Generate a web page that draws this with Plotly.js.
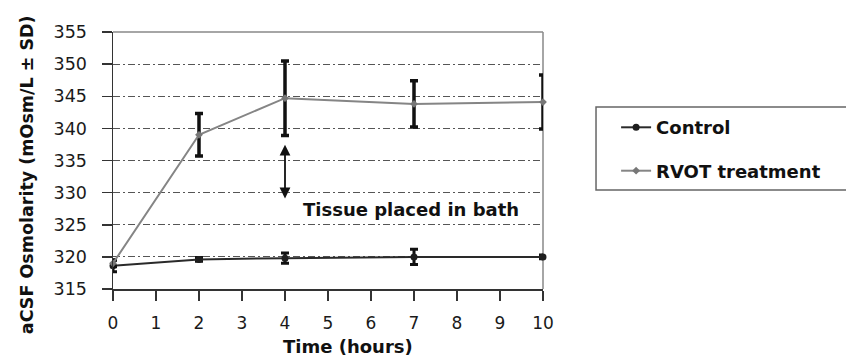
<!DOCTYPE html>
<html>
<head>
<meta charset="utf-8">
<script src="https://cdn.plot.ly/plotly-3.0.1.min.js"></script>
<style>html,body{margin:0;padding:0;background:#fff;}#chart{width:846px;height:360px;}</style>
</head>
<body>
<div id="chart"></div>
<script>
// Data
const timeHours = [0, 2, 4, 7, 10];
const controlValues = [318.6, 319.6, 319.8, 320.0, 320.0];
const controlSD = [0.9, 0.3, 0.8, 1.2, 0.3];
const rvotValues = [319.0, 339.0, 344.7, 343.8, 344.1];
const rvotSD = [0.5, 3.3, 5.8, 3.6, 4.2];
const seriesNames = ["Control", "RVOT treatment"];
const xTicks = [0, 1, 2, 3, 4, 5, 6, 7, 8, 9, 10];
const yTicks = [315, 320, 325, 330, 335, 340, 345, 350, 355];
const xTitle = "Time (hours)";
const yTitle = "aCSF Osmolarity (mOsm/L ± SD)";
const arrowFrom = 329.1, arrowTo = 337.7, arrowX = 4;
const noteText = "Tissue placed in bath";
const noteX = 6.93, noteY = 327.4;

const FONT = "DejaVu Sans";
const traces = [
  {
    x: timeHours, y: controlValues, name: seriesNames[0], type: "scatter", mode: "lines+markers",
    line: {color: "#2a2a2a", width: 2},
    marker: {color: "#1e1e1e", size: 7, symbol: "circle"},
    error_y: {type: "data", array: controlSD, visible: true, color: "#111", thickness: 3, width: 4},
    cliponaxis: false, legendgroup: "a"
  },
  {
    x: timeHours, y: rvotValues, name: seriesNames[1], type: "scatter", mode: "lines+markers",
    line: {color: "#858585", width: 2},
    marker: {color: "#777", size: 6, symbol: "diamond"},
    error_y: {type: "data", array: rvotSD, visible: true, color: "#111", thickness: 3.5, width: 4},
    cliponaxis: false, legendgroup: "b"
  }
];

const layout = {
  width: 846, height: 360,
  margin: {l: 113, r: 303, t: 32, b: 71, pad: 0},
  paper_bgcolor: "#fff", plot_bgcolor: "#fff",
  font: {family: FONT, size: 17, color: "#1a1a1a"},
  showlegend: true,
  legend: {
    x: 1.17, xanchor: "left", y: 0.70, yanchor: "top",
    bgcolor: "rgba(0,0,0,0)", borderwidth: 0,
    font: {family: FONT, size: 18, color: "#111", weight: "bold"},
    traceorder: "grouped", tracegroupgap: 17
  },
  xaxis: {
    range: [0, 10], tickvals: xTicks, ticktext: xTicks.map(String),
    showgrid: false, zeroline: false,
    showline: true, linecolor: "#333", linewidth: 1.5,
    ticks: "outside", ticklen: 10, tickwidth: 1.5, tickcolor: "#333",
    ticklabelstandoff: 8,
    tickfont: {family: FONT, size: 17, color: "#1a1a1a"}
  },
  yaxis: {
    range: [315, 355], tickvals: yTicks, ticktext: yTicks.map(String),
    showgrid: true, gridcolor: "#555", gridwidth: 1, griddash: "7px,3px,2px,3px",
    zeroline: false,
    showline: true, linecolor: "#333", linewidth: 1.5,
    ticks: "outside", ticklen: 10, tickwidth: 1.5, tickcolor: "#333",
    ticklabelstandoff: 11,
    tickfont: {family: FONT, size: 17.5, color: "#1a1a1a"}
  },
  shapes: [
    {type: "line", xref: "paper", yref: "paper", x0: 0, x1: 1, y0: 1, y1: 1, line: {color: "#888", width: 1.5}, layer: "below"},
    {type: "line", xref: "paper", yref: "paper", x0: 1, x1: 1, y0: 0, y1: 1, line: {color: "#888", width: 1.5}, layer: "below"},
    {type: "rect", xref: "paper", yref: "paper", x0: 1.1233, x1: 1.72, y0: 0.385, y1: 0.708, line: {color: "#666", width: 1.5}, fillcolor: "rgba(0,0,0,0)", layer: "above"}
  ],
  annotations: [
    {x: arrowX, y: arrowFrom, ax: arrowX, ay: arrowTo, xref: "x", yref: "y", axref: "x", ayref: "y",
     text: "", showarrow: true, arrowhead: 2, arrowside: "end+start", arrowsize: 1.2, arrowwidth: 1.8, arrowcolor: "#111"},
    {x: noteX, y: noteY, xref: "x", yref: "y", text: noteText, showarrow: false,
     font: {family: FONT, size: 18, color: "#111", weight: "bold"}, xanchor: "center", yanchor: "middle"},
    {x: 0.546, y: -0.225, xref: "paper", yref: "paper", text: xTitle, showarrow: false,
     font: {family: FONT, size: 18, color: "#111", weight: "bold"}, xanchor: "center", yanchor: "middle"},
    {x: -0.2, y: 0.443, xref: "paper", yref: "paper", text: yTitle, showarrow: false, textangle: -90,
     font: {family: FONT, size: 17.5, color: "#111", weight: "bold"}, xanchor: "center", yanchor: "middle"}
  ]
};

Plotly.newPlot("chart", traces, layout, {displayModeBar: false, staticPlot: true});
</script>
</body>
</html>
